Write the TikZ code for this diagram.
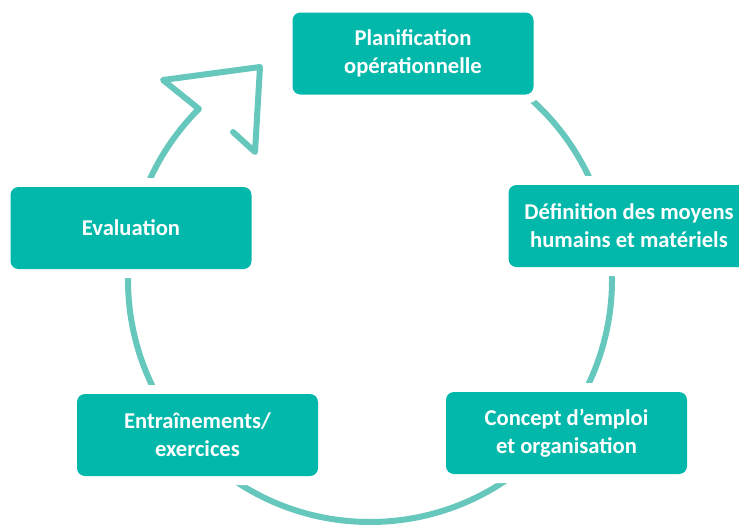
\documentclass[tikz,border=0pt]{standalone}
\usepackage{fontspec}
\setmainfont{Carlito}
\usetikzlibrary{calc}
\definecolor{boxteal}{HTML}{02B8AA}
\definecolor{ringteal}{HTML}{66C7BC}
\tikzset{
  stagebox/.style={rounded corners=8pt, fill=boxteal, text=white,
    minimum width=241pt, minimum height=82pt, align=center, inner sep=0pt,
    font=\fontsize{22.6}{28}\selectfont\bfseries,
    preaction={draw=white, line width=18pt}},
  ringline/.style={draw=ringteal, line width=6pt, line cap=round, line join=round}
}
\begin{document}
\begin{tikzpicture}[x=1pt,y=-1pt]
\useasboundingbox (0,0) rectangle (739,528);
\coordinate (c) at (370,280);
\coordinate (notch) at ($(c)+(-135:242)$);
\coordinate (barbin) at (233,132);
\coordinate (barbend) at (255,152);
\coordinate (tip) at (260,67);
\coordinate (barbout) at (163,80);
\draw[ringline] (barbin) -- (barbend) -- (tip) -- (barbout) -- (notch)
  arc[start angle=-135, end angle=-422, radius=242];
\node[stagebox] (plan) at (413,53.5) {Planification\\opérationnelle};
\node[stagebox] (def) at (629,226) {Définition des moyens\\humains et matériels};
\node[stagebox] (eval) at (131,228) {Evaluation};
\node[stagebox] (entr) at (197.5,435) {Entraînements/\\exercices};
\node[stagebox] (conc) at (566.5,433) {Concept d’emploi\\et organisation};
\end{tikzpicture}
\end{document}
